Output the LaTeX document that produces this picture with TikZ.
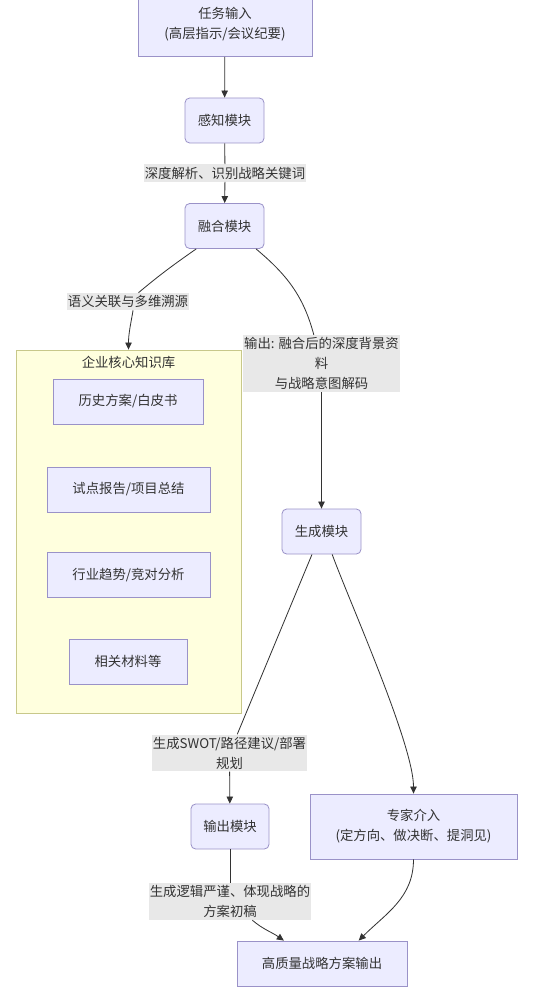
\documentclass[tikz,border=0pt]{standalone}
\usepackage{fontspec}
\setmainfont{Noto Sans CJK SC}
\usetikzlibrary{arrows.meta}
\definecolor{nodefill}{HTML}{ECECFF}
\definecolor{nodeline}{HTML}{9A92C8}
\definecolor{kbfill}{HTML}{FFFFDE}
\definecolor{kbline}{HTML}{C8C88A}
\definecolor{labfill}{HTML}{E8E8E8}
\definecolor{edgec}{HTML}{333333}
\definecolor{txt}{HTML}{333333}

\begin{document}
\begin{tikzpicture}[x=0.03cm, y=0.03cm,
   every node/.style={font=\fontsize{11.4}{17}\selectfont, text=txt, align=center},
   box/.style={draw=nodeline, fill=nodefill, line width=0.7pt, minimum height=1.35cm, inner sep=0pt},
   mod/.style={box, rounded corners=4pt, minimum width=2.37cm},
   kbbox/.style={draw=kbline, fill=kbfill, line width=0.7pt, inner sep=0pt},
   lab/.style={fill=labfill, inner xsep=1pt, inner ysep=2pt},
   plain/.style={draw=edgec, line width=0.7pt},
   edge/.style={plain, -{Triangle[length=6pt,width=5.5pt]}}]
\useasboundingbox (0,0) rectangle (545,-992);
\node[box, minimum width=5.22cm, minimum height=1.95cm] (rw) at (225,-24) {任务输入\\(高层指示/会议纪要)};
\node[mod] (gz) at (224.5,-120.5) {感知模块};
\node[mod] (rh) at (224.5,-226) {融合模块};
\node[kbbox, minimum width=6.75cm, minimum height=10.89cm] (kb) at (128.5,-531.5) {};
\node (kbt) at (128.5,-362) {企业核心知识库};
\node[box, minimum width=4.5cm]  (k1) at (128,-401.5)   {历史方案/白皮书};
\node[box, minimum width=4.89cm] (k2) at (128.5,-489.5) {试点报告/项目总结};
\node[box, minimum width=4.89cm] (k3) at (128.5,-575)   {行业趋势/竞对分析};
\node[box, minimum width=3.54cm] (k4) at (128,-661.5)   {相关材料等};
\node[mod] (sc) at (321.5,-531.5) {生成模块};
\node[mod, minimum width=2.34cm] (sc2) at (230,-826.5) {输出模块};
\node[box, minimum width=6.21cm, minimum height=1.95cm] (zj) at (413.5,-826.5) {专家介入\\(定方向、做决断、提洞见)};
\node[box, minimum width=5.1cm] (gzl) at (322,-963.5) {高质量战略方案输出};
\node[lab] (l1) at (225,-173)     {深度解析、识别战略关键词};
\node[lab] (l2) at (128,-301.5)   {语义关联与多维溯源};
\node[lab] (l3) at (321.5,-363.5) {输出: 融合后的深度背景资\\料\\与战略意图解码};
\node[lab] (l4) at (229.5,-753)   {生成SWOT/路径建议/部署\\规划};
\node[lab] (l5) at (230,-901.5)   {生成逻辑严谨、体现战略的\\方案初稿};
\draw[edge] (rw) -- (gz);
\draw[plain] (gz) -- (l1);
\draw[edge] (l1) -- (rh);
\draw[plain] (rh.219) to[out=-145,in=40] (l2);
\draw[edge] (l2.-60) to[out=-100,in=90] (kb.north);
\draw[plain] (rh.-36) to[out=-40,in=105] (l3);
\draw[edge] (l3) -- (sc);
\draw[plain] (sc) -- (l4);
\draw[edge] (l4) -- (sc2);
\draw[edge] (sc.-65) to[out=-70,in=90,looseness=0.5] (zj.north);
\draw[plain] (sc2) -- (l5);
\draw[edge] (l5) to[out=-40,in=145] (gzl.149);
\draw[edge] (zj) to[out=-90,in=45] (gzl.32);
\end{tikzpicture}
\end{document}
